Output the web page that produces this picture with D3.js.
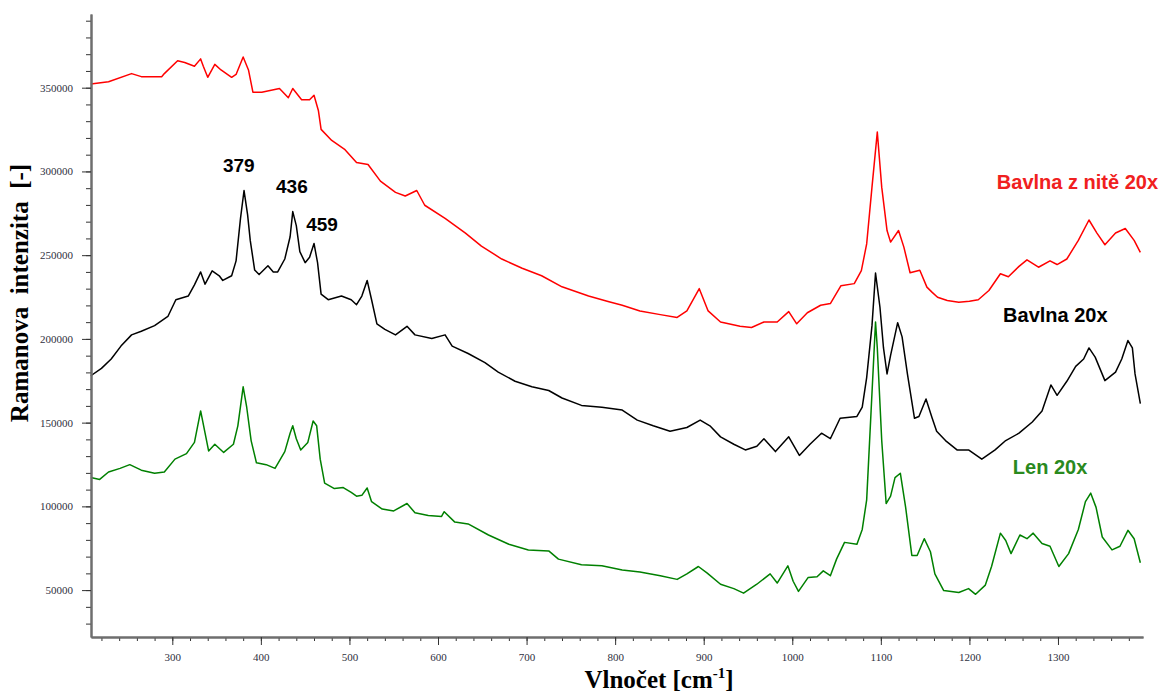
<!DOCTYPE html>
<html>
<head>
<meta charset="utf-8">
<script src="https://cdn.jsdelivr.net/npm/d3@7"></script>
<style>
  body { margin: 0; background: #fff; }
  svg { display: block; }
</style>
</head>
<body>
<svg id="chart"></svg>
<script>
// spectra: [wavenumber cm-1, intensity]
const bavlnaNit = [
  [208,352200],[228,353500],[254,358400],[265,356600],[288,356600],[291,358400],[306,366100],[314,365000],
  [325,362800],[332,367200],[335,362800],[340,356200],[348,363900],[355,360600],[367,356200],[372,357900],
  [380,368300],[386,360600],[391,347300],[401,347300],[421,349500],[431,344000],[436,349500],[446,342800],
  [455,342800],[460,345500],[465,336200],[468,325100],[480,318500],[495,313000],[508,305300],[521,304100],
  [535,294200],[552,287500],[563,285300],[576,288600],[585,279800],[608,272000],[631,263200],[649,255400],
  [672,247700],[695,242200],[717,237700],[740,231100],[770,225600],[792,222300],[808,220100],[828,216700],
  [851,214500],[870,212800],[881,216700],[895,230000],[905,216700],[919,210100],[941,207500],[954,206800],
  [968,210100],[983,210100],[996,216300],[1005,209000],[1017,215600],[1032,220100],[1043,221100],[1055,231800],
  [1070,233000],[1078,240800],[1084,256700],[1090,290600],[1096,323500],[1101,290600],[1107,264700],[1111,257800],
  [1120,264700],[1126,254800],[1133,239500],[1144,241000],[1152,230900],[1158,227800],[1164,224900],[1175,222900],
  [1188,221900],[1200,222500],[1210,223400],[1222,228900],[1235,238900],[1244,237100],[1256,243300],[1265,247200],
  [1278,242800],[1291,246600],[1299,244400],[1310,247700],[1323,258800],[1335,271000],[1344,263200],[1353,256200],
  [1365,263200],[1376,265900],[1386,258800],[1393,251700]
];

const bavlna = [
  [208,178000],[220,182400],[231,188000],[242,195700],[254,202400],[265,204600],[280,207900],[295,213400],
  [304,223400],[318,225600],[325,232300],[332,240000],[337,232700],[345,240600],[353,237700],[357,234900],
  [367,237700],[372,246600],[377,272000],[381,288600],[385,274200],[388,258800],[393,241100],[398,238400],
  [408,243700],[414,240000],[419,240000],[427,247700],[433,261000],[436,276000],[440,267600],[444,252100],
  [450,245500],[455,248800],[460,257000],[464,245500],[468,226700],[476,223400],[491,225600],[502,223400],
  [508,220400],[514,225600],[520,234900],[525,223400],[531,209000],[540,205700],[552,202400],[565,207500],
  [574,202400],[593,200200],[608,202400],[616,195700],[634,191300],[653,185800],[668,180200],[687,174700],
  [706,171400],[725,169200],[740,164700],[762,160300],[785,159200],[808,157500],[825,151500],[843,148100],
  [862,144900],[881,147100],[896,151500],[907,148100],[919,141500],[934,137100],[947,133700],[960,135900],
  [968,140400],[981,132700],[996,141500],[1008,130400],[1020,137100],[1033,143700],[1043,140400],[1054,152600],
  [1073,153700],[1079,159200],[1084,176900],[1090,207900],[1094,239300],[1099,218900],[1103,194600],[1107,179100],
  [1111,190200],[1119,209700],[1124,201200],[1130,179100],[1138,152600],[1143,153700],[1151,164100],[1158,152600],
  [1163,144900],[1173,139300],[1186,133700],[1199,133700],[1214,128200],[1229,133700],[1241,139300],[1256,143700],
  [1271,150400],[1282,157000],[1292,172500],[1299,166300],[1310,174700],[1320,183600],[1329,188000],[1335,194600],
  [1342,189100],[1353,175100],[1365,180200],[1372,188000],[1379,199000],[1384,194600],[1387,179100],[1393,161400]
];

const len = [
  [208,117200],[218,116100],[228,120500],[241,122700],[252,124900],[265,121600],[280,119800],[291,120500],
  [303,128200],[316,131500],[325,138200],[332,157000],[337,143700],[341,133100],[348,137100],[358,132200],
  [369,137100],[374,148100],[380,171400],[384,159200],[389,139300],[395,126000],[406,124900],[416,122700],
  [427,132700],[433,143700],[436,148100],[440,140400],[445,133700],[453,138200],[459,151000],[463,148100],
  [467,128200],[472,113900],[483,110600],[493,111200],[502,108300],[508,106100],[514,106600],[520,111000],
  [525,102800],[537,98400],[550,97300],[565,101700],[574,96200],[589,94600],[604,94000],[607,96800],
  [619,90600],[634,89500],[657,82900],[680,77400],[702,74000],[725,73400],[736,68500],[762,65200],
  [785,64500],[808,62000],[828,60800],[851,58600],[870,56400],[881,59700],[894,64100],[904,60100],
  [919,53500],[934,50900],[945,48200],[960,53500],[975,59700],[983,54200],[995,64500],[1001,55300],
  [1007,49200],[1018,57600],[1028,58000],[1035,61500],[1043,58600],[1050,68500],[1059,78500],[1073,77400],
  [1079,86200],[1084,103900],[1089,157000],[1094,210100],[1096,194600],[1101,139300],[1106,101700],[1111,106100],
  [1116,117200],[1122,119800],[1128,99400],[1135,70700],[1141,70700],[1149,80700],[1156,72900],[1161,59700],
  [1171,49700],[1188,48600],[1199,50900],[1207,47500],[1218,53000],[1225,64100],[1235,84000],[1241,79600],
  [1247,71800],[1257,82900],[1265,80700],[1272,84000],[1282,77800],[1291,76200],[1301,64100],[1312,71800],
  [1323,86200],[1331,102800],[1337,107900],[1343,99400],[1350,81700],[1361,74000],[1370,76200],[1379,85700],
  [1386,80700],[1393,66300]
];

const seriesNames = ["Bavlna z nitě 20x", "Bavlna 20x", "Len 20x"];
const seriesColors = ["#ff0000", "#000000", "#008000"];
const labelColors = ["#f02020", "#000000", "#2a8a1e"];
// where each series name sits: [wavenumber, intensity] of the text start/baseline
const seriesLabelAt = [[1231, 289800], [1238, 210000], [1249, 119400]];

const peakLabels = ["379", "436", "459"];
const peakLabelAt = [[375, 299400], [435, 286900], [469, 264300]];

const xMajorTicks = [300, 400, 500, 600, 700, 800, 900, 1000, 1100, 1200, 1300];
const yMajorTicks = [50000, 100000, 150000, 200000, 250000, 300000, 350000];

class SpectrumChart {
    margin = {
        top: 14, right: 32, bottom: 56, left: 91
    }

    constructor(svg, width = 1175, height = 693) {
        this.svg = svg;
        this.outerWidth = width;
        this.outerHeight = height;
        this.width = width - this.margin.left - this.margin.right;
        this.height = height - this.margin.top - this.margin.bottom;
    }

    initialize() {
        this.svg = d3.select(this.svg)
            .attr("width", this.outerWidth)
            .attr("height", this.outerHeight);

        this.xScale = d3.scaleLinear().domain([208.2, 1396]).range([0, this.width]);
        this.yScale = d3.scaleLinear().domain([22000, 394000]).range([this.height, 0]);

        this.container = this.svg.append("g")
            .attr("transform", `translate(${this.margin.left}, ${this.margin.top})`);

        this.xMinor = this.svg.append("g");
        this.yMinor = this.svg.append("g");
        this.xAxis = this.svg.append("g");
        this.yAxis = this.svg.append("g");

        // axis titles
        const xt = this.svg.append("text")
            .attr("text-anchor", "middle")
            .attr("x", 659)
            .attr("y", 688)
            .style("font-family", "'Liberation Serif', 'Times New Roman', serif")
            .style("font-weight", "bold")
            .style("font-size", "25px");
        xt.append("tspan").text("Vlnočet [cm");
        xt.append("tspan").attr("dy", -10).style("font-size", "15px").text("-1");
        xt.append("tspan").attr("dy", 10).text("]");

        this.svg.append("text")
            .attr("text-anchor", "middle")
            .attr("transform", "translate(28, 293) rotate(-90)")
            .style("font-family", "'Liberation Serif', 'Times New Roman', serif")
            .style("font-weight", "bold")
            .style("font-size", "25px")
            .style("white-space", "pre")
            .text("Ramanova  intenzita  [-]");
    }

    update(series) {
        const line = d3.line()
            .x(d => this.xScale(d[0]))
            .y(d => this.yScale(d[1]));

        this.container.selectAll("path.spectrum")
            .data(series)
            .join("path")
            .attr("class", "spectrum")
            .attr("d", line)
            .attr("fill", "none")
            .attr("stroke", (d, i) => seriesColors[i])
            .attr("stroke-width", 1.5)
            .attr("stroke-linejoin", "round");

        this.container.selectAll("text.name")
            .data(seriesNames)
            .join("text")
            .attr("class", "name")
            .attr("x", (d, i) => this.xScale(seriesLabelAt[i][0]))
            .attr("y", (d, i) => this.yScale(seriesLabelAt[i][1]))
            .attr("fill", (d, i) => labelColors[i])
            .style("font-family", "'Liberation Sans', Arial, sans-serif")
            .style("font-weight", "bold")
            .style("font-size", "20px")
            .text(d => d);

        this.container.selectAll("text.peak")
            .data(peakLabels)
            .join("text")
            .attr("class", "peak")
            .attr("text-anchor", "middle")
            .attr("x", (d, i) => this.xScale(peakLabelAt[i][0]))
            .attr("y", (d, i) => this.yScale(peakLabelAt[i][1]))
            .style("font-family", "'Liberation Sans', Arial, sans-serif")
            .style("font-weight", "bold")
            .style("font-size", "19px")
            .text(d => d);

        const bottom = this.margin.top + this.height;

        this.xMinor
            .attr("transform", `translate(${this.margin.left}, ${bottom})`)
            .call(d3.axisBottom(this.xScale).tickValues(d3.range(220, 1390, 20)).tickSize(4).tickSizeOuter(0).tickFormat(""));
        this.yMinor
            .attr("transform", `translate(${this.margin.left}, ${this.margin.top})`)
            .call(d3.axisLeft(this.yScale).tickValues(d3.range(30000, 391000, 10000)).tickSize(5).tickSizeOuter(0).tickFormat(""));

        this.xAxis
            .attr("transform", `translate(${this.margin.left}, ${bottom})`)
            .call(d3.axisBottom(this.xScale).tickValues(xMajorTicks).tickSize(8).tickSizeOuter(0).tickPadding(8).tickFormat(d3.format("d")));
        this.yAxis
            .attr("transform", `translate(${this.margin.left}, ${this.margin.top})`)
            .call(d3.axisLeft(this.yScale).tickValues(yMajorTicks).tickSize(9).tickSizeOuter(0).tickPadding(9).tickFormat(d3.format("d")));

        [this.xMinor, this.yMinor, this.xAxis, this.yAxis].forEach(g => {
            g.select(".domain").attr("stroke", "#6e6e6e").attr("stroke-width", 2);
            g.selectAll(".tick line").attr("stroke", "#333");
            g.selectAll(".tick text")
                .attr("fill", "#2e3040")
                .style("font-family", "'Liberation Serif', 'Times New Roman', serif")
                .style("font-size", "11px");
        });
    }
}

const chart = new SpectrumChart(document.getElementById("chart"));
chart.initialize();
chart.update([bavlnaNit, bavlna, len]);
</script>
</body>
</html>
